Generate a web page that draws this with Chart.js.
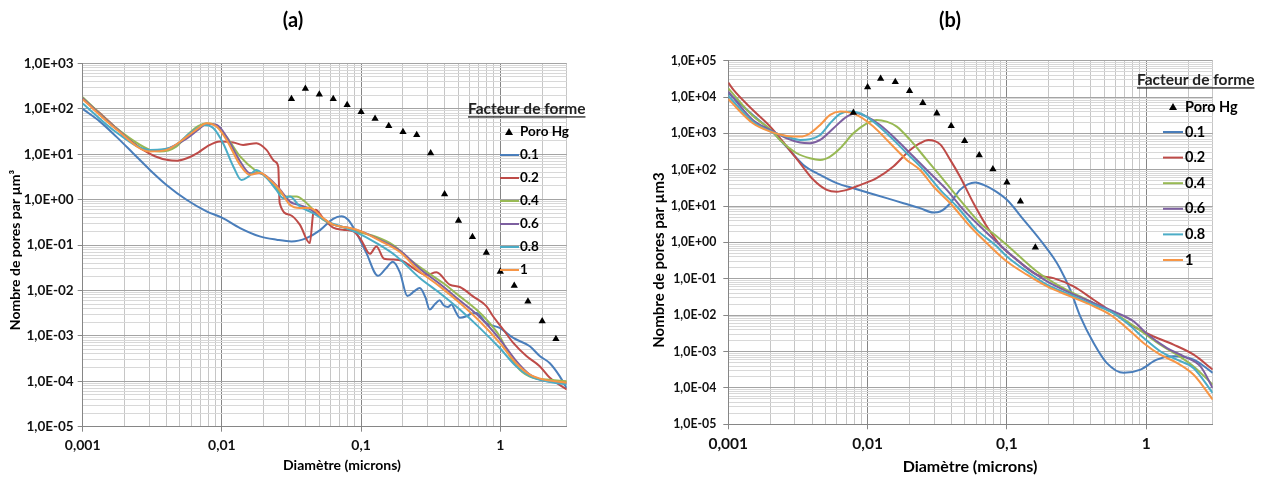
<!DOCTYPE html>
<html>
<head>
<meta charset="UTF-8">
<title>Facteur de forme</title>
<script src="https://cdn.jsdelivr.net/npm/chart.js"></script>
<style>
  body { margin: 0; background: #fff; width: 1263px; height: 477px; overflow: hidden; position: relative; }
  canvas { position: absolute; top: 0; }
  #chartA { left: 0; }
  #chartB { left: 640px; }
</style>
</head>
<body>
<canvas id="chartA" width="586" height="477"></canvas>
<canvas id="chartB" width="620" height="477"></canvas>

<script>
// legend
const legendTitle = 'Facteur de forme';
const poroLabel = 'Poro Hg';
const formeLabels = ['0.1', '0.2', '0.4', '0.6', '0.8', '1'];
const formeColors = ['#4a7ebb', '#be4b48', '#98b954', '#7d60a0', '#4bacc6', '#f79646'];

// tick labels
const xDecades = [0.001, 0.01, 0.1, 1];
const xDecadeLabels = ['0,001', '0,01', '0,1', '1'];
const yDecades = [1e-5, 1e-4, 1e-3, 1e-2, 1e-1, 1, 1e1, 1e2, 1e3, 1e4, 1e5];
const yDecadeLabels = ['1,0E-05', '1,0E-04', '1,0E-03', '1,0E-02', '1,0E-01', '1,0E+00',
                       '1,0E+01', '1,0E+02', '1,0E+03', '1,0E+04', '1,0E+05'];

// ---- (a) ----
const a_poroX = [0.0316, 0.0398, 0.0501, 0.0631, 0.0794, 0.1, 0.126, 0.158, 0.2, 0.251, 0.316, 0.398, 0.501, 0.631, 0.794, 1.0, 1.26, 1.58, 2.0, 2.51];
const a_poroY = [164, 277, 206, 164, 121, 85, 60.6, 41.9, 30.9, 26.5, 10.5, 1.32, 0.342, 0.15, 0.068, 0.026, 0.0127, 0.0057, 0.0021, 0.00086];

const a_x01 = [0.001, 0.00133, 0.00175, 0.0023, 0.00304, 0.004, 0.00557, 0.00776, 0.01, 0.0135, 0.0187, 0.0247, 0.0316, 0.0405, 0.0505, 0.063, 0.0722, 0.0807, 0.0926, 0.109, 0.132, 0.15, 0.169, 0.19, 0.215, 0.24, 0.264, 0.29, 0.311, 0.34, 0.367, 0.39, 0.421, 0.446, 0.48, 0.512, 0.571, 0.62, 0.673, 0.794, 0.99, 1.24, 1.63, 1.92, 2.27, 2.67, 3.0];
const a_y01 = [99, 52, 24, 10.5, 4.5, 2.1, 0.99, 0.55, 0.40, 0.236, 0.155, 0.131, 0.12, 0.142, 0.21, 0.378, 0.43, 0.36, 0.183, 0.067, 0.021, 0.03, 0.043, 0.025, 0.0075, 0.0095, 0.0113, 0.007, 0.0038, 0.005, 0.0061, 0.0048, 0.0043, 0.0049, 0.0033, 0.0025, 0.0027, 0.0031, 0.0032, 0.0019, 0.0015, 0.0009, 0.00059, 0.00036, 0.00025, 0.00013, 0.00007];

const a_x02 = [0.001, 0.0013, 0.00175, 0.0023, 0.00272, 0.0033, 0.0041, 0.0048, 0.0056, 0.0068, 0.0078, 0.0097, 0.0121, 0.0142, 0.0177, 0.0209, 0.024, 0.0254, 0.026, 0.0308, 0.0363, 0.0428, 0.0453, 0.047, 0.0534, 0.063, 0.074, 0.088, 0.1, 0.1156, 0.129, 0.146, 0.17, 0.2, 0.237, 0.294, 0.348, 0.433, 0.512, 0.637, 0.794, 0.887, 1.05, 1.24, 1.54, 1.92, 2.27, 3.0];
const a_y02 = [165, 85, 37, 18, 12.4, 9, 7.4, 7.2, 8.1, 11, 14.7, 19, 18, 16, 17.4, 12.4, 6.9, 5.3, 0.84, 0.46, 0.28, 0.11, 0.50, 0.6, 0.39, 0.24, 0.217, 0.2, 0.13, 0.064, 0.093, 0.05, 0.048, 0.044, 0.031, 0.022, 0.025, 0.0134, 0.0119, 0.0074, 0.0045, 0.0027, 0.00138, 0.0007, 0.00036, 0.000215, 0.000119, 0.000066];

const a_x04 = [0.001, 0.00175, 0.00304, 0.00357, 0.0047, 0.0059, 0.0068, 0.00777, 0.0089, 0.0108, 0.0135, 0.0177, 0.0209, 0.0246, 0.029, 0.0344, 0.0394, 0.0453, 0.0534, 0.063, 0.0785, 0.098, 0.129, 0.17, 0.224, 0.294, 0.388, 0.512, 0.673, 0.794, 0.99, 1.17, 1.38, 1.72, 2.14, 3.0];
const a_y04 = [179, 37, 12.4, 11.4, 14.7, 30, 42, 48, 44, 24, 8.9, 4.2, 3.2, 1.79, 1.17, 1.17, 0.91, 0.60, 0.36, 0.28, 0.236, 0.19, 0.15, 0.10, 0.048, 0.026, 0.0146, 0.0074, 0.0038, 0.0023, 0.00098, 0.00036, 0.00018, 0.000119, 0.00011, 0.0001];

const a_x06 = [0.001, 0.00175, 0.00304, 0.004, 0.00557, 0.0068, 0.00777, 0.0092, 0.0108, 0.0135, 0.0159, 0.0188, 0.0222, 0.026, 0.0308, 0.0363, 0.0428, 0.0534, 0.063, 0.083, 0.1, 0.136, 0.19, 0.264, 0.367, 0.512, 0.711, 0.99, 1.3, 1.63, 2.03, 3.0];
const a_y06 = [170, 36, 11.8, 13, 22, 35, 46, 44, 24, 7, 3.8, 3.8, 2.8, 1.7, 0.9, 0.75, 0.62, 0.38, 0.28, 0.235, 0.2, 0.13, 0.075, 0.03, 0.014, 0.006, 0.0026, 0.00085, 0.00028, 0.00014, 0.000105, 0.00009];

const a_x08 = [0.001, 0.00175, 0.00304, 0.00448, 0.0059, 0.00755, 0.0087, 0.0102, 0.0121, 0.0138, 0.0155, 0.0177, 0.0209, 0.0246, 0.0275, 0.0308, 0.0363, 0.0453, 0.0566, 0.071, 0.0926, 0.129, 0.18, 0.264, 0.367, 0.512, 0.711, 0.99, 1.3, 1.63, 2.14, 3.0];
const a_y08 = [131, 30, 12.4, 14.7, 29, 44, 37, 17.4, 5.3, 2.7, 3.2, 4.5, 3.0, 1.64, 1.08, 1.17, 0.71, 0.5, 0.33, 0.26, 0.19, 0.11, 0.056, 0.0188, 0.0088, 0.0038, 0.0015, 0.00054, 0.000215, 0.00013, 0.0001, 0.000085];

const a_x1 = [0.001, 0.00175, 0.00304, 0.004, 0.00557, 0.0068, 0.00777, 0.0092, 0.0108, 0.0135, 0.0159, 0.0188, 0.0222, 0.026, 0.0308, 0.0363, 0.0428, 0.0534, 0.063, 0.083, 0.1, 0.136, 0.19, 0.264, 0.367, 0.512, 0.711, 0.99, 1.3, 1.63, 2.03, 3.0];
const a_y1 = [161, 35, 11.4, 12.4, 24, 38, 48, 40, 20.6, 5.8, 3.5, 3.9, 2.7, 1.64, 0.77, 0.65, 0.65, 0.39, 0.28, 0.236, 0.2, 0.125, 0.07, 0.026, 0.0123, 0.0053, 0.0021, 0.0007, 0.00025, 0.00014, 0.00011, 0.000093];

// ---- (b) ----
const b_poroX = [0.0079, 0.01, 0.0124, 0.0158, 0.02, 0.0249, 0.0314, 0.0398, 0.0497, 0.0633, 0.0793, 0.1, 0.125, 0.16];
const b_poroY = [3740, 18600, 32100, 26000, 14700, 6890, 3580, 1610, 623, 251, 104, 44.7, 13.4, 0.73];

const b_x01 = [0.001, 0.0015, 0.002, 0.00263, 0.00346, 0.00456, 0.006, 0.0079, 0.0104, 0.0137, 0.0181, 0.0238, 0.0297, 0.0332, 0.0392, 0.046, 0.0593, 0.068, 0.08, 0.1, 0.132, 0.173, 0.216, 0.241, 0.285, 0.336, 0.42, 0.52, 0.69, 0.91, 1.19, 1.57, 2.19, 3.0];
const b_y01 = [12700, 3220, 1250, 420, 136, 72, 43, 31, 22.7, 16.6, 12, 8.8, 6.7, 7.1, 12, 28, 44.7, 38.5, 28, 14.9, 4.2, 1.19, 0.38, 0.19, 0.05, 0.0093, 0.0017, 0.00049, 0.00026, 0.00032, 0.0006, 0.00074, 0.0006, 0.00026];

const b_x02 = [0.001, 0.00109, 0.0015, 0.002, 0.00263, 0.00328, 0.00408, 0.00509, 0.006, 0.0071, 0.0088, 0.0116, 0.0153, 0.0202, 0.0238, 0.0273, 0.0332, 0.0392, 0.046, 0.0576, 0.0718, 0.0895, 0.118, 0.164, 0.216, 0.301, 0.419, 0.583, 0.81, 1.13, 1.57, 2.19, 3.0];
const b_y02 = [24900, 15700, 4420, 1540, 435, 151, 53, 28, 25, 28, 38, 59, 123, 352, 537, 662, 500, 187, 65, 12, 2.75, 0.85, 0.335, 0.13, 0.105, 0.062, 0.0267, 0.0115, 0.0049, 0.0026, 0.00155, 0.00082, 0.00032];

const b_x04 = [0.001, 0.0015, 0.002, 0.00235, 0.0031, 0.00386, 0.00456, 0.00538, 0.00635, 0.0079, 0.00987, 0.0116, 0.0137, 0.0162, 0.0202, 0.0266, 0.0351, 0.046, 0.0643, 0.0847, 0.106, 0.164, 0.241, 0.336, 0.468, 0.616, 0.86, 1.26, 1.66, 2.19, 3.0];
const b_y04 = [17400, 3000, 1300, 662, 285, 208, 187, 231, 391, 1010, 1900, 2350, 2110, 1540, 662, 187, 53, 14.9, 3.4, 1.47, 0.7, 0.16, 0.062, 0.033, 0.0175, 0.0103, 0.0044, 0.00155, 0.00082, 0.00039, 0.000123];

const b_x06 = [0.001, 0.0015, 0.002, 0.00263, 0.00328, 0.00386, 0.00456, 0.00569, 0.0071, 0.00836, 0.00987, 0.0123, 0.0162, 0.0213, 0.0281, 0.037, 0.0488, 0.068, 0.1, 0.139, 0.194, 0.285, 0.42, 0.583, 0.81, 1.0, 1.41, 1.86, 2.45, 3.0];
const b_y06 = [14100, 2350, 1250, 736, 560, 537, 662, 1390, 2900, 3580, 2900, 1710, 662, 231, 80, 28, 7.9, 2.23, 0.57, 0.2, 0.085, 0.041, 0.0216, 0.0127, 0.0068, 0.0032, 0.00125, 0.00074, 0.00039, 0.0001];

const b_x08 = [0.001, 0.0015, 0.002, 0.00263, 0.00328, 0.00386, 0.00456, 0.00538, 0.00635, 0.0075, 0.0088, 0.011, 0.0145, 0.0191, 0.0252, 0.0332, 0.0437, 0.0608, 0.0847, 0.1, 0.139, 0.194, 0.285, 0.42, 0.552, 0.727, 0.96, 1.26, 1.66, 2.19, 3.0];
const b_y08 = [10700, 2100, 1150, 819, 662, 692, 910, 1900, 3440, 3980, 3580, 2110, 819, 285, 99, 28, 9.8, 2.23, 0.78, 0.41, 0.16, 0.069, 0.0366, 0.0194, 0.0127, 0.0061, 0.00236, 0.00102, 0.0006, 0.00035, 0.000073];

const b_x1 = [0.001, 0.0015, 0.002, 0.00263, 0.00328, 0.00386, 0.00456, 0.00538, 0.00635, 0.0075, 0.0088, 0.011, 0.0145, 0.0191, 0.0238, 0.0297, 0.0392, 0.0545, 0.0759, 0.1, 0.139, 0.194, 0.285, 0.42, 0.552, 0.727, 0.96, 1.26, 1.66, 2.19, 3.0];
const b_y1 = [8700, 1900, 1120, 853, 819, 1010, 1710, 3220, 3980, 3730, 2900, 1540, 537, 187, 99, 34.6, 12, 2.75, 0.78, 0.3, 0.13, 0.062, 0.033, 0.0175, 0.0103, 0.0044, 0.0017, 0.00082, 0.00049, 0.00023, 0.000048];

Chart.defaults.font.family = 'Lato';
Chart.defaults.color = '#111';

const pts = (xs, ys) => xs.map((x, i) => ({ x: x, y: ys[i] }));
const isDecade = v => Math.abs(Math.log10(v) - Math.round(Math.log10(v))) < 1e-6;

// 1..9 x 10^n gridline positions between min and max
function logTicks(min, max) {
  const out = [];
  for (let e = Math.floor(Math.log10(min)); e <= Math.ceil(Math.log10(max)); e++) {
    for (let m = 1; m <= 9; m++) {
      const v = parseFloat((m * Math.pow(10, e)).toPrecision(2));
      if (v >= min * 0.999 && v <= max * 1.001) out.push({ value: v });
    }
  }
  return out;
}
function labelFor(v, decades, labels) {
  const i = decades.findIndex(d => Math.abs(d - v) / d < 1e-6);
  return i < 0 ? '' : labels[i];
}

function drawTriangle(c, x, y, r) {
  c.beginPath();
  c.moveTo(x, y - r);
  c.lineTo(x + r, y + r * 0.75);
  c.lineTo(x - r, y + r * 0.75);
  c.closePath();
  c.fill();
}

// titles + legend drawn on top of the plot
function overlay(L) {
  return {
    id: 'overlay',
    afterDraw(chart) {
      const c = chart.ctx;
      c.save();
      c.fillStyle = '#000';
      c.textBaseline = 'middle';
      c.textAlign = 'center';
      c.font = 'bold ' + L.panelSize + 'px Lato';
      c.fillText(L.panel, L.panelX, L.panelY);
      c.font = 'bold ' + L.xtSize + 'px Lato';
      c.fillText(L.xTitle, L.xtX, L.xtY);
      c.save();
      c.translate(L.ytX, L.ytY);
      c.rotate(-Math.PI / 2);
      c.font = 'bold ' + L.ytSize + 'px Lato';
      c.fillText(L.yTitle, 0, 0);
      c.restore();

      c.textAlign = 'left';
      c.font = 'bold ' + L.headSize + 'px Lato';
      c.fillStyle = '#222';
      c.fillText(legendTitle, L.headX, L.headY);
      const hw = c.measureText(legendTitle).width;
      c.fillRect(L.headX, L.headY + L.headSize * 0.47, hw, 1.3);
      c.font = 'bold ' + L.rowSize + 'px Lato';
      c.fillStyle = '#000';
      drawTriangle(c, L.markX, L.poroY, 4);
      c.fillText(poroLabel, L.textX, L.poroY);
      formeLabels.forEach((lab, i) => {
        const y = L.row0 + i * L.rowDy;
        c.strokeStyle = formeColors[i];
        c.lineWidth = 2;
        c.beginPath();
        c.moveTo(L.lineX1, y);
        c.lineTo(L.lineX2, y);
        c.stroke();
        c.fillText(lab, L.textX, y);
      });
      c.restore();
    }
  };
}

function makeChart(id, poro, series, yMax, L) {
  const datasets = [{
    label: poroLabel,
    data: pts(poro[0], poro[1]),
    showLine: false,
    pointStyle: 'triangle',
    pointRadius: 4.2,
    backgroundColor: '#000',
    borderColor: '#000',
    borderWidth: 0,
    order: 0
  }];
  series.forEach((s, i) => {
    datasets.push({
      label: formeLabels[i],
      data: pts(s[0], s[1]),
      showLine: true,
      borderColor: formeColors[i],
      backgroundColor: formeColors[i],
      borderWidth: 2,
      pointRadius: 0,
      cubicInterpolationMode: 'monotone',
      order: 6 - i
    });
  });

  return new Chart(document.getElementById(id), {
    type: 'scatter',
    data: { datasets: datasets },
    options: {
      responsive: false,
      animation: false,
      devicePixelRatio: 1,
      layout: { padding: { left: 0, right: L.padRight, top: L.padTop, bottom: 0 } },
      plugins: { legend: { display: false }, tooltip: { enabled: false }, title: { display: false } },
      scales: {
        x: {
          type: 'logarithmic',
          min: 0.001,
          max: 3,
          afterBuildTicks: s => { s.ticks = logTicks(0.001, 3); },
          afterFit: s => { s.height = L.xAxisH; },
          ticks: {
            autoSkip: false, maxRotation: 0, minRotation: 0,
            padding: L.xPad, color: '#111',
            font: { size: L.xTickSize, weight: 'bold' },
            callback: v => labelFor(v, xDecades, xDecadeLabels)
          },
          grid: {
            color: c => (c.tick && isDecade(c.tick.value)) ? '#868686' : '#c6c6c6',
            tickColor: c => (c.tick && isDecade(c.tick.value)) ? '#868686' : 'rgba(0,0,0,0)',
            tickLength: 5
          },
          border: { color: '#868686' }
        },
        y: {
          type: 'logarithmic',
          min: 1e-5,
          max: yMax,
          afterBuildTicks: s => { s.ticks = logTicks(1e-5, yMax); },
          afterFit: s => { s.width = L.yAxisW; },
          ticks: {
            autoSkip: false,
            padding: L.yPad, color: '#111',
            font: { size: L.yTickSize, weight: 'bold' },
            callback: v => labelFor(v, yDecades, yDecadeLabels)
          },
          grid: {
            color: c => (c.tick && isDecade(c.tick.value)) ? '#a4a4a4' : '#d8d8d8',
            tickColor: c => (c.tick && isDecade(c.tick.value)) ? '#868686' : 'rgba(0,0,0,0)',
            tickLength: 5
          },
          border: { color: '#868686' }
        }
      }
    },
    plugins: [overlay(L)]
  });
}

makeChart('chartA', [a_poroX, a_poroY],
  [[a_x01, a_y01], [a_x02, a_y02], [a_x04, a_y04], [a_x06, a_y06], [a_x08, a_y08], [a_x1, a_y1]],
  1e3, {
    padRight: 19.3, padTop: 63.3, xAxisH: 50.3, yAxisW: 82.7,
    xPad: 5, xTickSize: 14, yPad: 4, yTickSize: 13.5,
    panel: '(a)', panelSize: 20, panelX: 293, panelY: 21,
    xTitle: 'Diamètre (microns)', xtSize: 14, xtX: 342, xtY: 465,
    yTitle: 'Nombre de pores par µm³', ytSize: 14, ytX: 15, ytY: 250,
    headX: 468, headY: 109, headSize: 15.5,
    markX: 509, poroY: 132, textX: 520, rowSize: 13.5,
    row0: 155, rowDy: 23, lineX1: 500, lineX2: 519
  });

makeChart('chartB', [b_poroX, b_poroY],
  [[b_x01, b_y01], [b_x02, b_y02], [b_x04, b_y04], [b_x06, b_y06], [b_x08, b_y08], [b_x1, b_y1]],
  1e5, {
    padRight: 47.3, padTop: 60.7, xAxisH: 52.7, yAxisW: 88.3,
    xPad: 5, xTickSize: 15.5, yPad: 7, yTickSize: 12.3,
    panel: '(b)', panelSize: 20, panelX: 310, panelY: 21,
    xTitle: 'Diamètre (microns)', xtSize: 16, xtX: 330, xtY: 467,
    yTitle: 'Nombre de pores par µm3', ytSize: 15, ytX: 19, ytY: 260,
    headX: 497, headY: 80, headSize: 15.5,
    markX: 533, poroY: 107, textX: 545, rowSize: 14.5,
    row0: 132, rowDy: 25.6, lineX1: 523, lineX2: 543
  });
</script>
</body>
</html>
